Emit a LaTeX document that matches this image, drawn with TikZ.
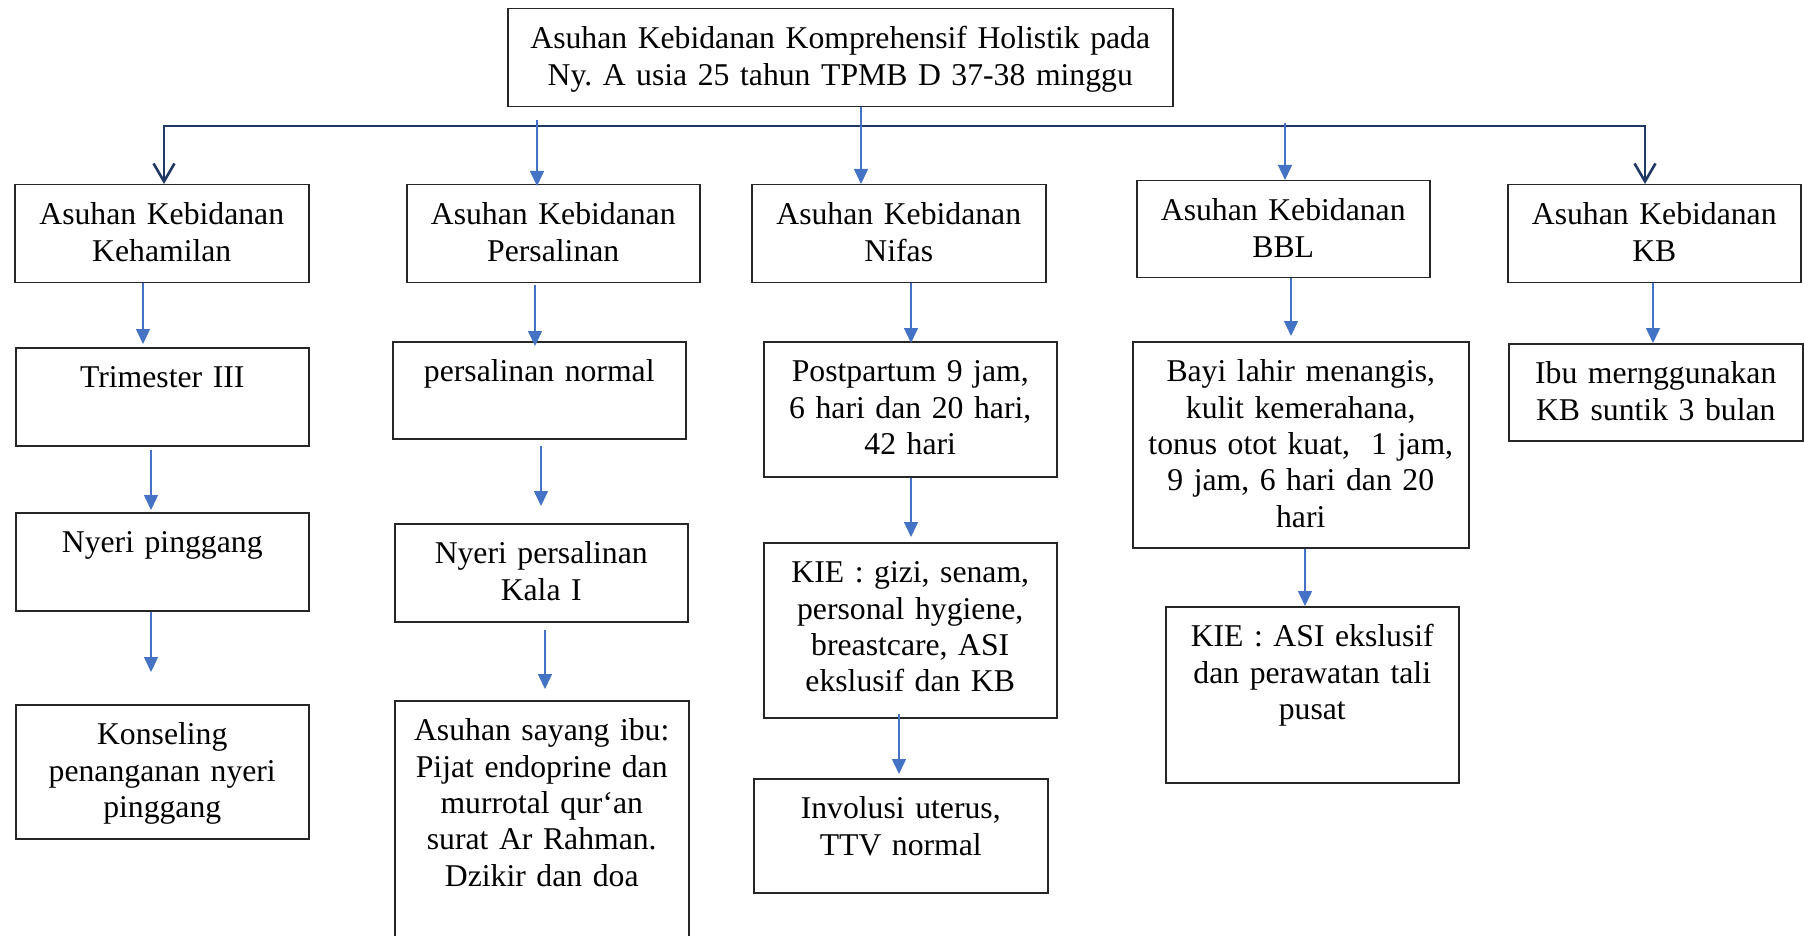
\documentclass[tikz,border=0pt]{standalone}
\usepackage{fontspec}
\setmainfont{Liberation Serif}
\usetikzlibrary{arrows.meta}
\definecolor{wordblue}{HTML}{4472C4}
\definecolor{navy}{HTML}{203864}
\newcommand{\boxfont}{\fontsize{15.85}{18.2}\selectfont}
\tikzset{
    box/.style 2 args={draw=black!85,line width=0.75pt,inner sep=0pt,anchor=north west,align=center,
        text width=#1,text height=20pt,text depth=#2,font=\boxfont},
    link/.style={draw=wordblue,line width=0.75pt,-{Triangle[length=7.5pt,width=7pt]}},
    trunk/.style={draw=navy,line width=1.3pt,
        {Straight Barb[length=9pt,width=10.5pt]}-{Straight Barb[length=9pt,width=10.5pt]}},
}

\begin{document}
\begin{tikzpicture}[x=0.5pt,y=-0.5pt]
    \useasboundingbox (0,0) rectangle (1804,936);

    % top
    \node[box={332.5pt}{29pt}] (top) at (507,8)
        {Asuhan Kebidanan Komprehensif Holistik pada\\Ny.\ A usia 25 tahun TPMB D 37-38 minggu};

    % first row
    \node[box={147pt}{29pt}]   (keh)   at (14,184)   {Asuhan Kebidanan\\Kehamilan};
    \node[box={146.5pt}{29pt}] (pers)  at (406,184)  {Asuhan Kebidanan\\Persalinan};
    \node[box={147pt}{29pt}]   (nifas) at (751,184)  {Asuhan Kebidanan\\Nifas};
    \node[box={146.5pt}{28.5pt}] (bbl) at (1136,180) {Asuhan Kebidanan\\BBL};
    \node[box={146.5pt}{29pt}] (kb)    at (1507,184) {Asuhan Kebidanan\\KB};

    % kehamilan
    \node[box={146.5pt}{29pt}] (tri)   at (15,347) {Trimester III};
    \node[box={146.5pt}{29pt}] (nyeri) at (15,512) {Nyeri pinggang};
    \node[box={146.5pt}{47pt}] (kons)  at (15,704) {Konseling\\penanganan nyeri\\pinggang};

    % persalinan
    \node[box={146.5pt}{28.5pt}] (norm) at (392,341) {persalinan normal};
    \node[box={146.5pt}{29pt}] (kala)   at (394,523) {Nyeri persalinan\\Kala I};
    \node[box={147pt}{110pt}]  (sayang) at (394,700)
        {Asuhan sayang ibu:\\Pijat endoprine dan\\murrotal qur‘an\\surat Ar Rahman.\\Dzikir dan doa};

    % nifas
    \node[box={146.5pt}{47.5pt}] (post) at (763,341) {Postpartum 9 jam,\\6 hari dan 20 hari,\\42 hari};
    \node[box={146.5pt}{67.5pt}] (kie)  at (763,542)
        {KIE : gizi, senam,\\personal hygiene,\\breastcare, ASI\\ekslusif dan KB};
    \node[box={147pt}{37pt}]     (inv)  at (753,778) {Involusi uterus,\\TTV normal};

    % bbl
    \node[box={168pt}{83pt}] (bayi) at (1132,341)
        {Bayi lahir menangis,\\kulit kemerahana,\\tonus otot kuat,\ \ 1 jam,\\9 jam, 6 hari dan 20\\hari};
    \node[box={146.5pt}{68pt}] (kie2) at (1165,606) {KIE : ASI ekslusif\\dan perawatan tali\\pusat};

    % kb
    \node[box={147pt}{28.5pt}] (ibu) at (1508,343) {Ibu mernggunakan\\KB suntik 3 bulan};

    % branches
    \coordinate (busL) at (164,126);
    \coordinate (busR) at (1645,126);
    \coordinate (dropP) at (537,120);
    \coordinate (dropB) at (1285,123);
    \draw[trunk] (keh.north -| busL) -- (busL) -- (busR) -- (kb.north -| busR);
    \draw[link,shorten >=-1pt] (dropP) -- (pers.north -| dropP);
    \draw[link] (dropB) -- (bbl.north -| dropB);
    \draw[link] (top.south -| 861,0) -- (nifas.north -| 861,0);

    % columns
    \draw[link,shorten >=1.5pt] (keh.south -| 143,0) -- (tri.north -| 143,0);
    \draw[link,shorten <=1.5pt,shorten >=1pt] (tri.south -| 151,0) -- (nyeri.north -| 151,0);
    \draw[link,shorten >=16pt] (nyeri.south -| 151,0) -- (kons.north -| 151,0);

    \draw[link,shorten <=1pt,shorten >=-2.5pt] (pers.south -| 535,0) -- (norm.north -| 535,0);
    \draw[link,shorten <=3pt,shorten >=8.5pt] (norm.south -| 541,0) -- (kala.north -| 541,0);
    \draw[link,shorten <=3.5pt,shorten >=5.5pt] (kala.south -| 545,0) -- (sayang.north -| 545,0);

    \draw[link,shorten >=-1pt] (nifas.south -| 911,0) -- (post.north -| 911,0);
    \draw[link,shorten >=2.5pt] (post.south -| 911,0) -- (kie.north -| 911,0);
    \draw[link,shorten <=-2.5pt,shorten >=2pt] (kie.south -| 899,0) -- (inv.north -| 899,0);

    \draw[link,shorten >=2.5pt] (bbl.south -| 1291,0) -- (bayi.north -| 1291,0);
    \draw[link] (bayi.south -| 1305,0) -- (kie2.north -| 1305,0);

    \draw[link] (kb.south -| 1653,0) -- (ibu.north -| 1653,0);
\end{tikzpicture}
\end{document}
